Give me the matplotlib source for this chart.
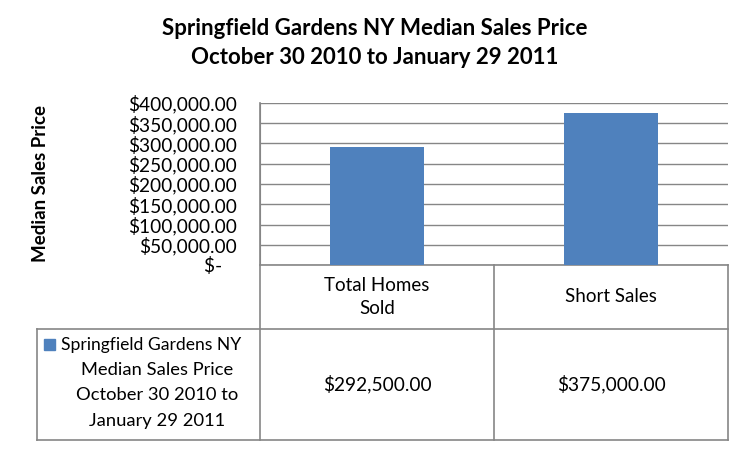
import matplotlib
matplotlib.use("Agg")
import matplotlib.pyplot as plt
from matplotlib.ticker import FuncFormatter, MultipleLocator

categories = ["Total Homes\nSold", "Short Sales"]
values = [292500, 375000]
series_label = ["Springfield Gardens NY", "Median Sales Price", "October 30 2010 to", "January 29 2011"]
title = "Springfield Gardens NY Median Sales Price\nOctober 30 2010 to January 29 2011"
ylabel = "Median Sales Price"
ymax = 400000
ystep = 50000

W, H = 752, 451
FONT = "Lato"
GRID = "#868686"
BAR = "#4F81BD"
plt.rcParams["font.family"] = [FONT, "DejaVu Sans"]

fig = plt.figure(figsize=(W / 100, H / 100), dpi=100)
fig.patch.set_facecolor("white")

# overlay axes in pixel coordinates for table and text
ov = fig.add_axes([0, 0, 1, 1])
ov.set_xlim(0, W)
ov.set_ylim(H, 0)
ov.axis("off")

# plot area
px0, px1, py0, py1 = 260, 728, 103, 265
ax = fig.add_axes([px0 / W, 1 - py1 / H, (px1 - px0) / W, (py1 - py0) / H])
ax.set_facecolor("none")
x = list(range(len(categories)))
ax.bar(x, values, width=0.4, color=BAR, zorder=3)
ax.set_xlim(-0.5, len(categories) - 0.5)
ax.set_ylim(0, ymax)
ax.yaxis.set_major_locator(MultipleLocator(ystep))
ax.yaxis.set_major_formatter(FuncFormatter(lambda v, p: "$-   " if v == 0 else f"${v:,.2f}"))
ax.tick_params(axis="y", length=0, labelsize=13.8, pad=16.5)
ax.tick_params(axis="x", length=0, labelbottom=False)
ax.grid(axis="y", color=GRID, lw=1, zorder=1)
for s in ["top", "right", "bottom"]:
    ax.spines[s].set_visible(False)
ax.spines["left"].set_color(GRID)
ax.set_ylabel(ylabel, fontsize=13.5, fontweight="bold")
ax.yaxis.set_label_coords((49 - px0) / (px1 - px0), 0.5)

# title
ov.text(375, 43, title, ha="center", va="center", fontsize=16, fontweight="bold",
        linespacing=1.5)

# data table
lc = dict(color=GRID, lw=1.2)
col_w = (px1 - px0) / len(categories)
ty0, ty1, ty2 = py1, 329, 440
lx0 = 37
ov.plot([px0, px0], [py0, ty2], **lc)
ov.plot([px1, px1], [ty0, ty2], **lc)
ov.plot([px0, px1], [ty0, ty0], **lc)
ov.plot([lx0, px1], [ty1, ty1], **lc)
ov.plot([lx0, px1], [ty2, ty2], **lc)
ov.plot([lx0, lx0], [ty1, ty2], **lc)
for i in range(1, len(categories)):
    xx = px0 + i * col_w
    ov.plot([xx, xx], [ty0, ty2], **lc)
for i, (c, v) in enumerate(zip(categories, values)):
    cx = px0 + (i + 0.5) * col_w
    ov.text(cx, 297, c, ha="center", va="center", fontsize=13.5, linespacing=1.45)
    ov.text(cx, 384, f"${v:,.2f}", ha="center", va="center", fontsize=13.8)

# legend key cell
ov.add_patch(plt.Rectangle((44, 339), 11, 11, color=BAR))
ov.text(61, 345, series_label[0], ha="left", va="center", fontsize=12.6)
for k, line in enumerate(series_label[1:]):
    ov.text(157, 370 + k * 25.5, line, ha="center", va="center", fontsize=13.2)

fig.savefig("out.png", dpi=100, facecolor="white")
